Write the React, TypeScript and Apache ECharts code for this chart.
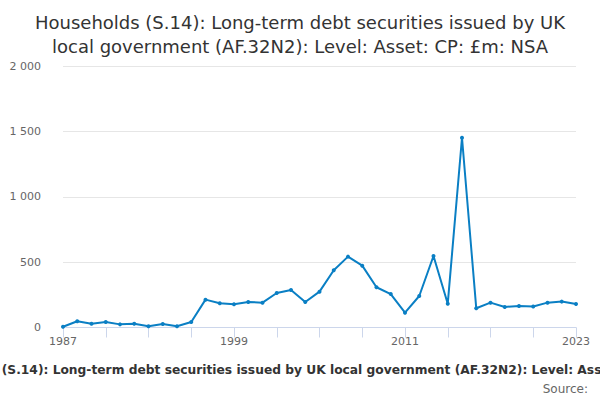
import React, { useEffect, useRef } from "react";
import * as echarts from "echarts";

const years: string[] = [];
for (let y = 1987; y <= 2023; y++) years.push(String(y));

const values = [
  6, 48, 29, 42, 24, 29, 9, 27, 9, 42,
  213, 185, 178, 195, 190, 264, 287, 195, 274, 438,
  542, 473, 308, 256, 113, 241, 547, 182, 1451, 147,
  190, 157, 165, 160, 190, 198, 180,
];

const yTicks = [0, 500, 1000, 1500, 2000];

const titleText =
  "Households (S.14): Long-term debt securities issued by UK\nlocal government (AF.32N2): Level: Asset: CP: £m: NSA";
const axisTitle =
  "Households (S.14): Long-term debt securities issued by UK local government (AF.32N2): Level: Asset: CP: £m: NSA";

const fmt = (v: number) => String(v).replace(/\B(?=(\d{3})+(?!\d))/g, " ");

export default function App() {
  const ref = useRef<HTMLDivElement>(null);
  useEffect(() => {
    if (!ref.current) return;
    const chart = echarts.init(ref.current, undefined, { renderer: "svg" });
    chart.setOption({
      animation: false,
      backgroundColor: "#ffffff",
      textStyle: { fontFamily: "DejaVu Sans" },
      title: {
        text: titleText,
        left: "center",
        top: 5,
        textStyle: {
          fontFamily: "DejaVu Sans",
          fontSize: 18,
          fontWeight: "normal",
          color: "#333333",
          lineHeight: 24,
        },
      },
      grid: { left: 63, right: 24, top: 66, bottom: 72.5, containLabel: false },
      xAxis: {
        type: "category",
        data: years,
        boundaryGap: false,
        axisLine: { lineStyle: { color: "#ccd6eb", width: 1 } },
        axisTick: { interval: 2, length: 10, lineStyle: { color: "#ccd6eb" } },
        axisLabel: {
          interval: 11,
          color: "#666666",
          fontSize: 11,
          margin: 8,
          fontFamily: "DejaVu Sans",
        },
        splitLine: { show: false },
      },
      yAxis: {
        type: "value",
        min: 0,
        max: 2000,
        interval: 500,
        axisLine: { show: false },
        axisTick: { show: false },
        splitLine: { lineStyle: { color: "#e6e6e6", width: 1 } },
        axisLabel: {
          color: "#666666",
          fontSize: 11,
          margin: 22,
          fontFamily: "DejaVu Sans",
          formatter: (v: number) => (yTicks.includes(v) ? fmt(v) : ""),
        },
      },
      graphic: [
        {
          type: "text",
          x: 314,
          y: 370,
          style: {
            text: axisTitle,
            fontFamily: "DejaVu Sans",
            fontSize: 12.25,
            fontWeight: "bold",
            fill: "#333333",
            align: "center",
            verticalAlign: "middle",
          },
        },
        {
          type: "text",
          right: 12,
          top: 383,
          style: {
            text: "Source:",
            fontFamily: "DejaVu Sans",
            fontSize: 12,
            fill: "#666666",
          },
        },
      ],
      series: [
        {
          type: "line",
          data: values,
          symbol: "circle",
          symbolSize: 4,
          showSymbol: true,
          lineStyle: { color: "#0a7fc4", width: 2 },
          itemStyle: { color: "#0a7fc4" },
        },
      ],
    });
    return () => chart.dispose();
  }, []);
  return <div ref={ref} style={{ width: 600, height: 400, position: "absolute", left: 0, top: 0 }} />;
}
